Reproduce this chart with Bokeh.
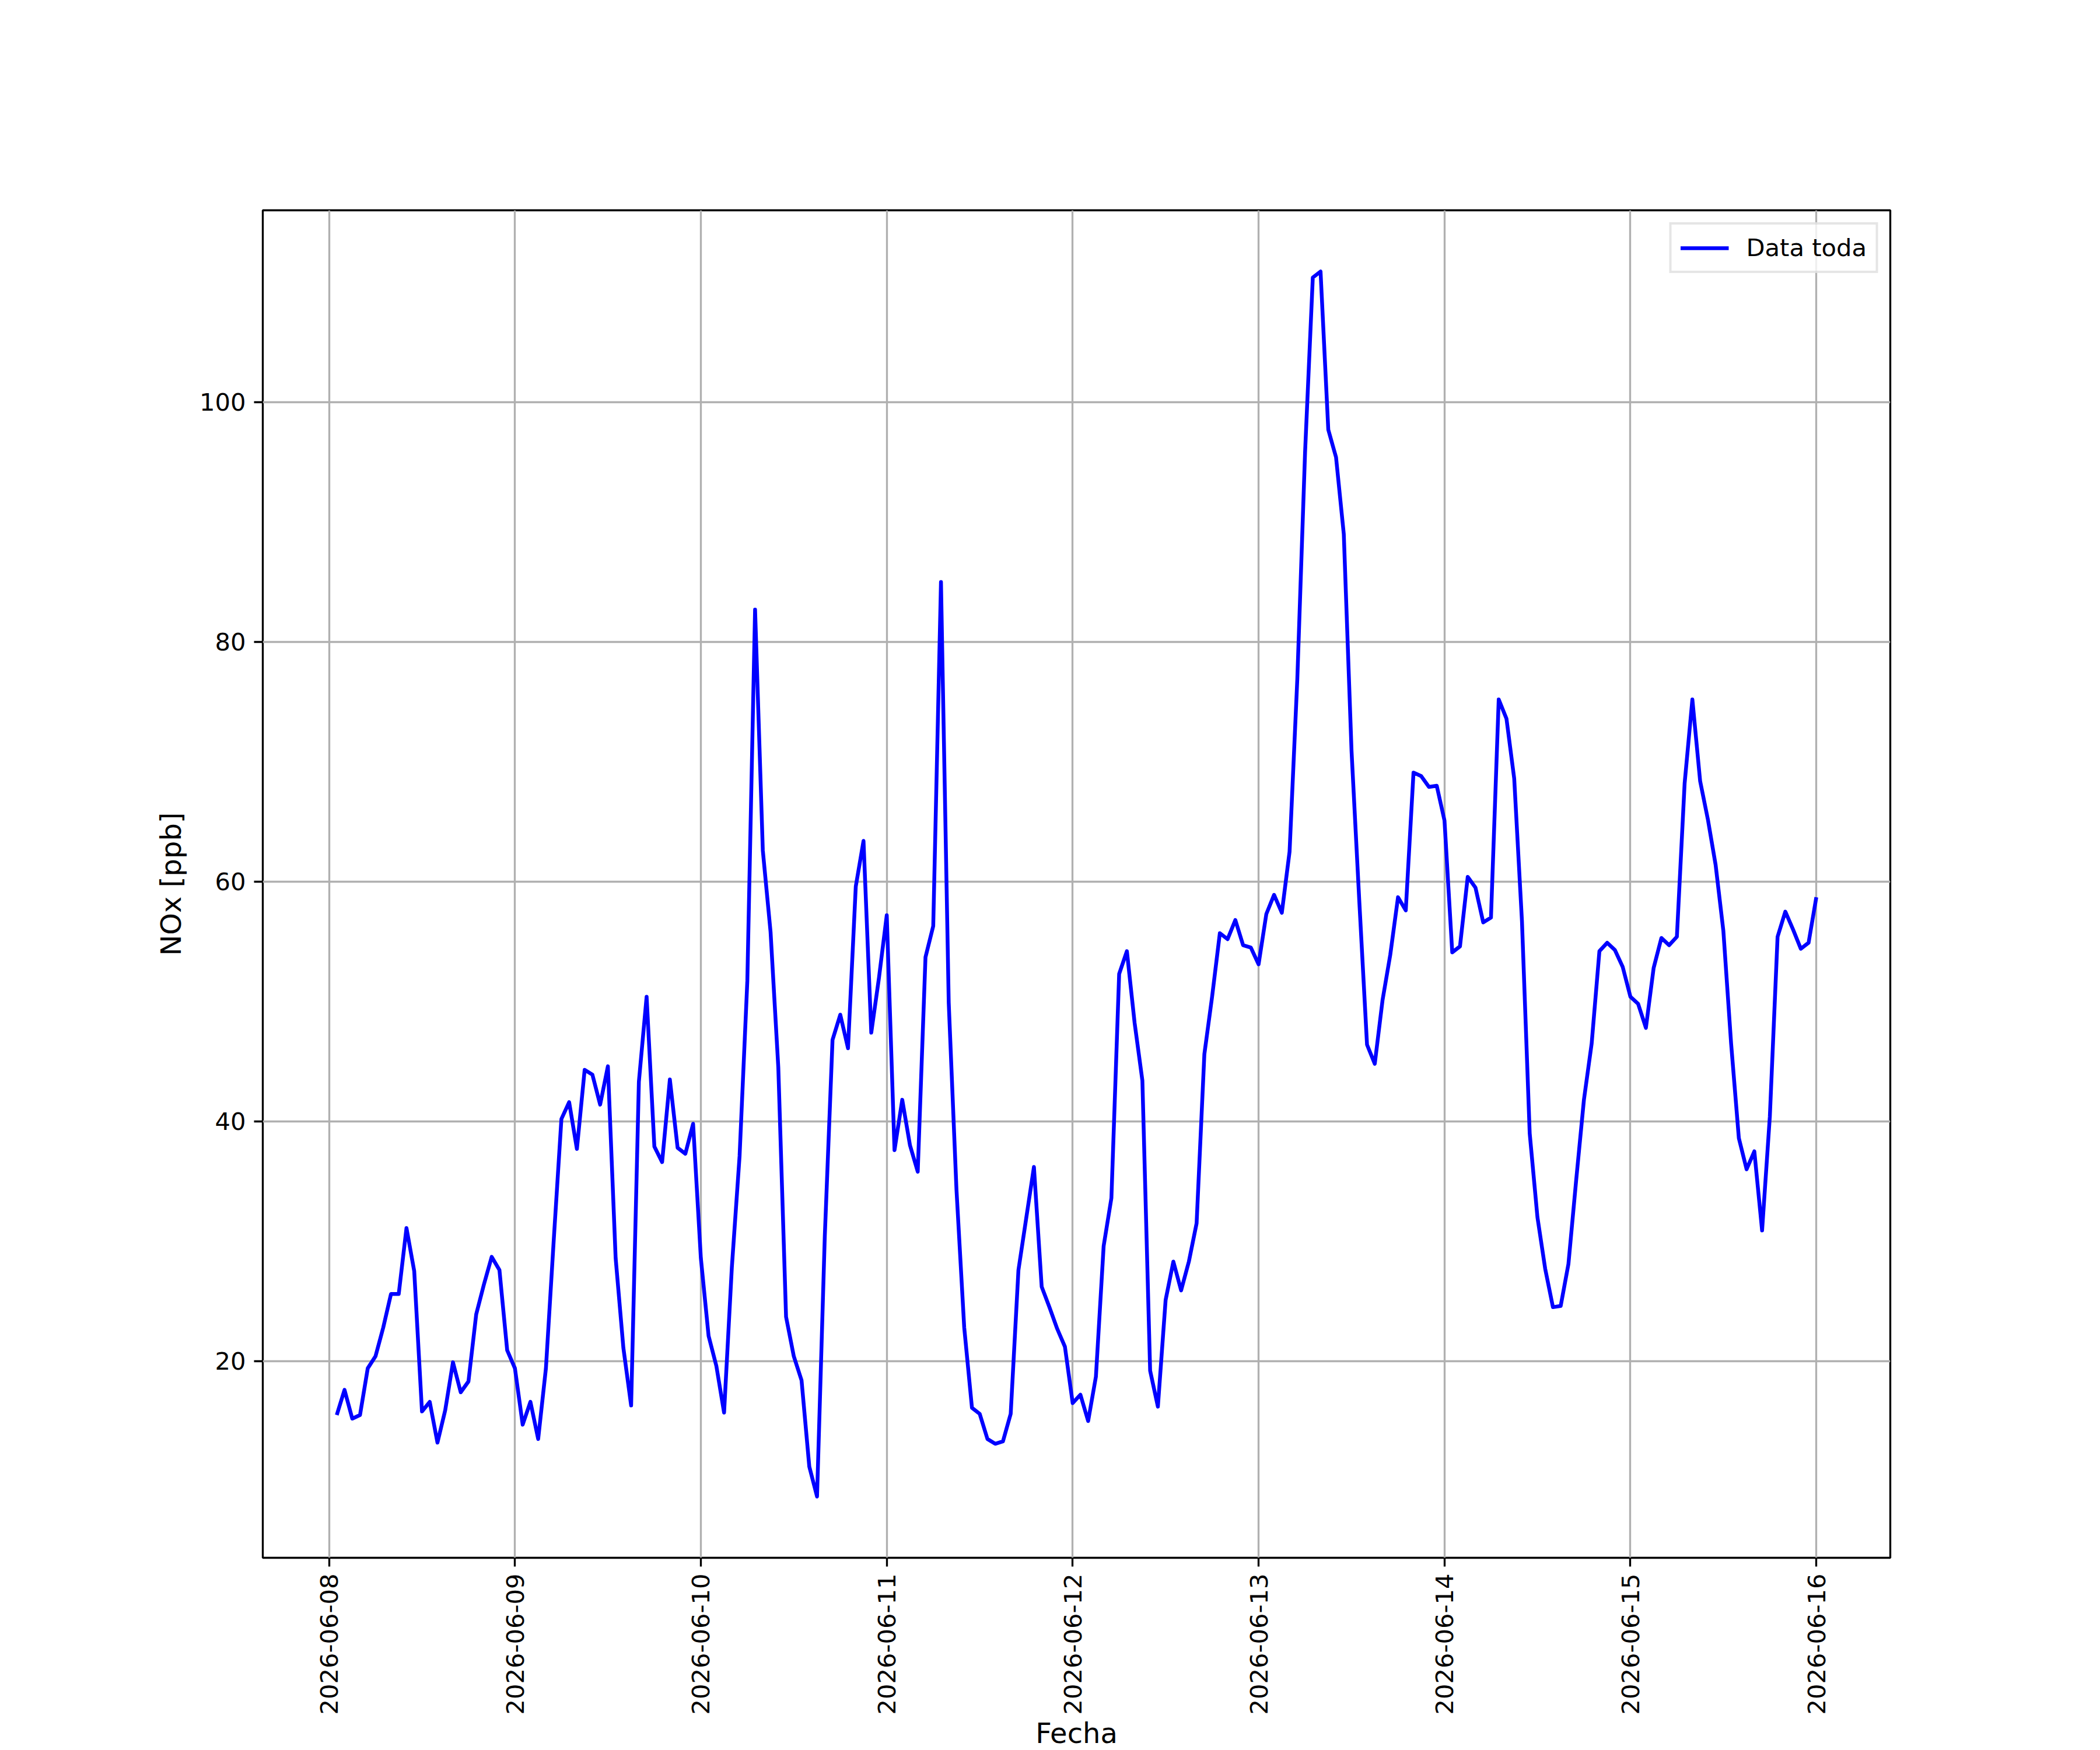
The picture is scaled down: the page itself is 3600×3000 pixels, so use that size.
import math
import pandas as pd
from bokeh.plotting import figure
from bokeh.models import Range1d, FixedTicker, DatetimeTickFormatter, ColumnDataSource
from bokeh.embed import file_html
from bokeh.resources import INLINE

# ---- data (hourly NOx, ppb) ----
start_time = "2026-06-08 01:00"
day1 = [15.5, 17.6, 15.2, 15.5, 19.4, 20.4, 22.8, 25.6, 25.6, 31.1, 27.5, 15.8,
        16.6, 13.2, 15.9, 19.9, 17.4, 18.3, 23.9, 26.4, 28.7, 27.6, 20.9, 19.4]
day2 = [14.7, 16.6, 13.5, 19.4, 30.0, 40.2, 41.6, 37.7, 44.3, 43.9, 41.4, 44.6,
        28.6, 21.1, 16.3, 43.3, 50.4, 37.9, 36.6, 43.5, 37.8, 37.3, 39.8, 28.6]
day3 = [22.1, 19.6, 15.7, 27.8, 37.1, 51.7, 82.7, 62.6, 55.8, 44.5, 23.7, 20.4,
        18.4, 11.2, 8.7, 30.4, 46.8, 48.9, 46.1, 59.6, 63.4, 47.4, 52.0, 57.2]
day4 = [37.6, 41.8, 38.0, 35.8, 53.7, 56.3, 85.0, 49.9, 34.3, 22.8, 16.1, 15.6,
        13.5, 13.1, 13.3, 15.6, 27.6, 31.9, 36.2, 26.2, 24.5, 22.7, 21.2, 16.5]
day5 = [17.2, 15.0, 18.7, 29.6, 33.6, 52.3, 54.2, 48.2, 43.4, 19.2, 16.2, 25.1,
        28.3, 25.9, 28.3, 31.5, 45.6, 50.4, 55.7, 55.2, 56.8, 54.7, 54.5, 53.1]
day6 = [57.3, 58.9, 57.4, 62.5, 76.9, 95.8, 110.4, 110.9, 97.7, 95.4, 89.0, 70.9,
        58.4, 46.4, 44.8, 50.1, 53.9, 58.7, 57.6, 69.1, 68.8, 67.9, 68.0, 65.1]
day7 = [54.1, 54.6, 60.4, 59.5, 56.6, 57.0, 75.2, 73.6, 68.6, 56.7, 39.0, 32.0,
        27.7, 24.5, 24.6, 28.1, 35.1, 41.8, 46.5, 54.2, 54.9, 54.3, 52.9, 50.4]
day8 = [49.8, 47.8, 52.8, 55.3, 54.7, 55.4, 68.2, 75.2, 68.4, 65.2, 61.4, 55.9,
        46.5, 38.6, 36.0, 37.5, 30.9, 40.4, 55.4, 57.5, 56.0, 54.4, 54.9, 58.7]
tick_dates = ["2026-06-08", "2026-06-09", "2026-06-10", "2026-06-11", "2026-06-12",
              "2026-06-13", "2026-06-14", "2026-06-15", "2026-06-16"]
y_ticks = [20, 40, 60, 80, 100]
series_label = "Data toda"
x_title = "Fecha"
y_title = "NOx [ppb]"

values = day1 + day2 + day3 + day4 + day5 + day6 + day7 + day8
times = pd.date_range(start=start_time, periods=len(values), freq="h")
src = ColumnDataSource(data=dict(t=times, v=values))

# matplotlib-like 5% margins
t0, t1 = times[0], times[-1]
tpad = (t1 - t0) * 0.05
vmin, vmax = min(values), max(values)
vpad = (vmax - vmin) * 0.05

FS = "41.67px"
FS_LABEL = "48px"
FONT = "DejaVu Sans"
LW = 3.33

p = figure(
    frame_width=2790, frame_height=2310,
    min_border_left=450, min_border_top=360, min_border_right=344, min_border_bottom=0,
    x_axis_type="datetime",
    x_range=Range1d(t0 - tpad, t1 + tpad),
    y_range=Range1d(vmin - vpad, vmax + vpad),
    output_backend="svg", toolbar_location=None,
    background_fill_color="white", border_fill_color="white",
)

p.line("t", "v", source=src, line_color="#0000ff", line_width=6.5,
       line_join="round", legend_label=series_label)

tick_ms = [pd.Timestamp(d).value // 10**6 for d in tick_dates]
p.xaxis.ticker = FixedTicker(ticks=tick_ms)
p.xaxis.formatter = DatetimeTickFormatter(days="%Y-%m-%d", months="%Y-%m-%d",
                                          hours="%Y-%m-%d", years="%Y-%m-%d")
p.xaxis.major_label_orientation = math.pi / 2
p.yaxis.ticker = FixedTicker(ticks=y_ticks)

p.xaxis.axis_label = x_title
p.yaxis.axis_label = y_title

for ax in (p.xaxis, p.yaxis):
    ax.axis_line_color = None
    ax.major_tick_out = 15
    ax.major_tick_in = 0
    ax.major_tick_line_width = LW
    ax.major_tick_line_color = "black"
    ax.minor_tick_line_color = None
    ax.major_label_text_font = FONT
    ax.major_label_text_font_size = FS
    ax.major_label_text_color = "black"
    ax.major_label_standoff = 14
    ax.axis_label_text_font = FONT
    ax.axis_label_text_font_size = FS_LABEL
    ax.axis_label_text_font_style = "normal"
    ax.axis_label_text_color = "black"
p.xaxis.major_label_standoff = 12
p.xaxis.axis_label_standoff = 0
p.yaxis.axis_label_standoff = 18

p.xgrid.ticker = FixedTicker(ticks=tick_ms)
p.ygrid.ticker = FixedTicker(ticks=y_ticks)
for g in (p.xgrid, p.ygrid):
    g.grid_line_color = "#b0b0b0"
    g.grid_line_width = LW

p.outline_line_color = "black"
p.outline_line_width = LW
p.outline_line_alpha = 1.0

lg = p.legend[0]
lg.location = "top_right"
lg.margin = 21
lg.padding = 15
lg.spacing = 0
lg.label_text_font = FONT
lg.label_text_font_size = FS
lg.label_text_color = "black"
lg.glyph_width = 83
lg.glyph_height = 38
lg.label_height = 38
lg.label_standoff = 30
lg.border_line_color = "#cccccc"
lg.border_line_width = 4
lg.background_fill_alpha = 0.8

open("out.html", "w").write(file_html(p, INLINE))
